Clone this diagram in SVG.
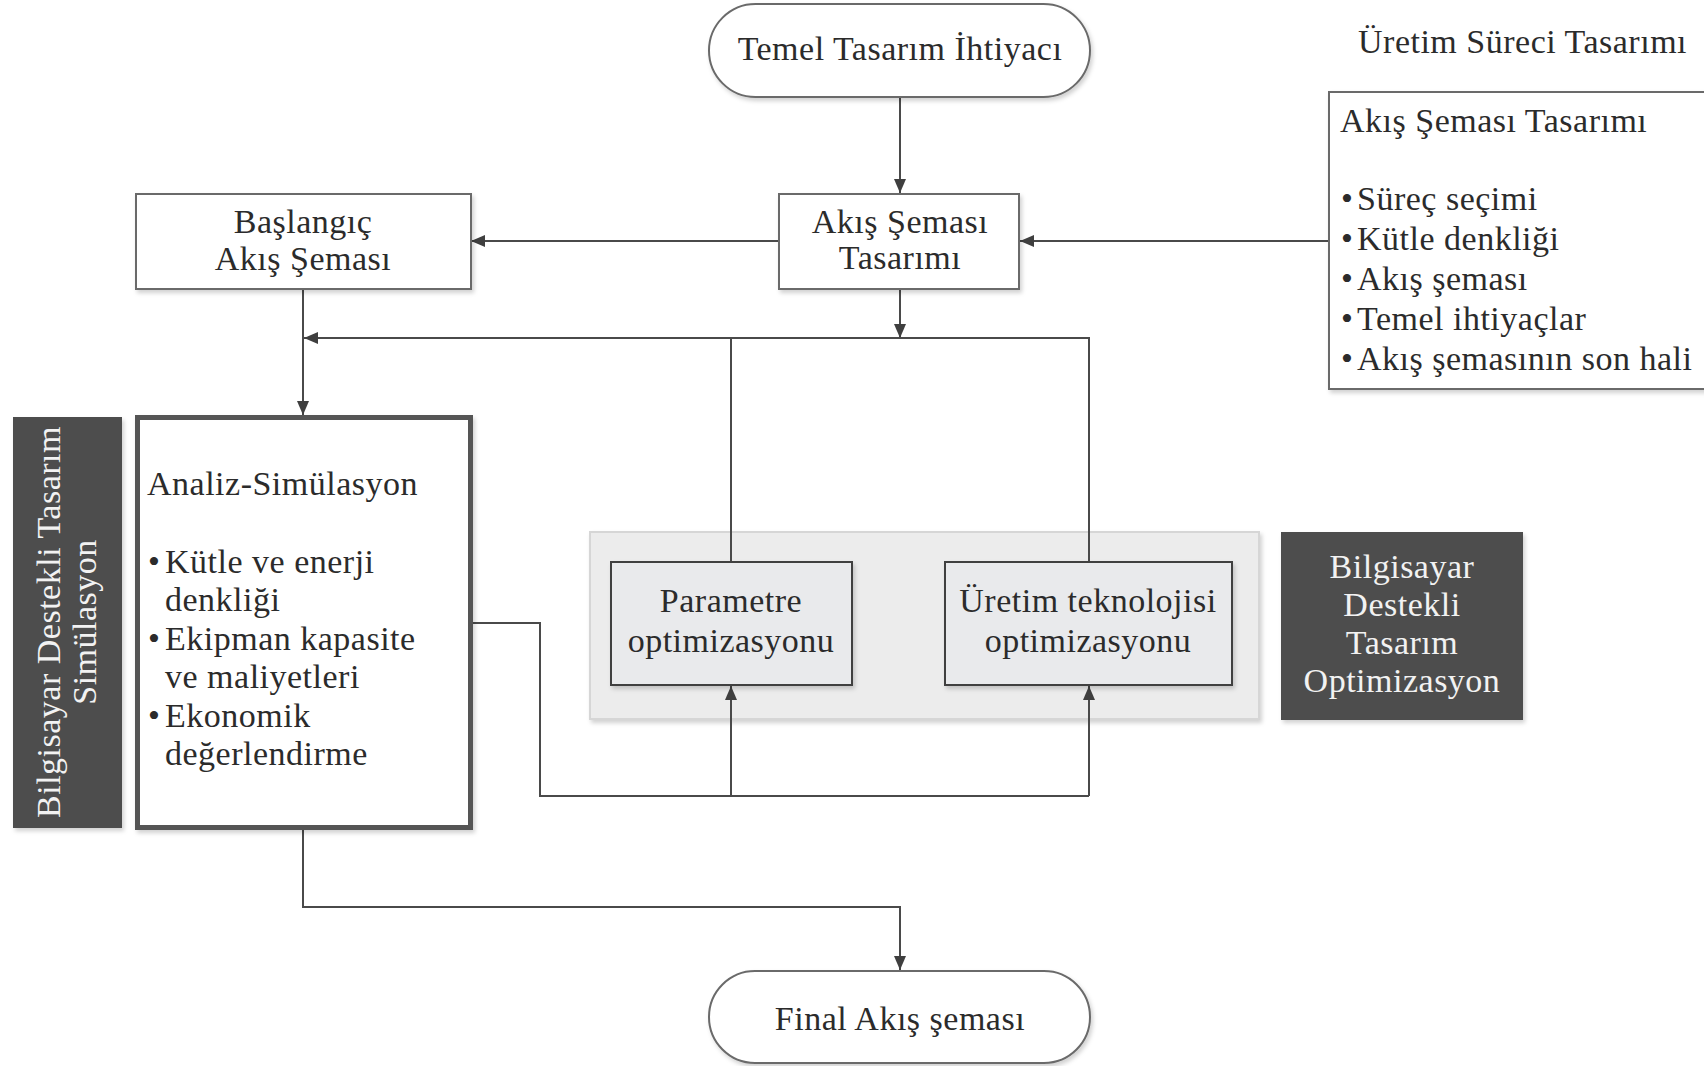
<svg xmlns="http://www.w3.org/2000/svg" width="1704" height="1066" viewBox="0 0 1704 1066">
<style>
text{font-family:"Liberation Serif","Times New Roman",serif;font-size:34px;letter-spacing:0.5px;fill:#2b2b2b}
.c{text-anchor:middle}
.w{fill:#f2f2f2}
.box{fill:#fff;stroke:#6a6a6a;stroke-width:2}
.ibox{fill:#e9eaec;stroke:#3f3f3f;stroke-width:2}
.dark{fill:#4d4d4d}
.ln{fill:none;stroke:#4a4a4a;stroke-width:2}
</style>
<defs>
<marker id="ah" viewBox="0 0 14 12" refX="14" refY="6" markerWidth="14" markerHeight="12" markerUnits="userSpaceOnUse" orient="auto">
<path d="M0,0 L14,6 L0,12 Z" fill="#3f3f3f"/>
</marker>
<filter id="sh" x="-5%" y="-5%" width="115%" height="115%">
<feDropShadow dx="2" dy="3" stdDeviation="2" flood-color="#000" flood-opacity="0.18"/>
</filter>
</defs>

<g id="panel">
<rect x="590" y="532" width="669" height="187" fill="#ececec" stroke="#d6d6d6" stroke-width="2" filter="url(#sh)"/>
</g>

<g id="connectors">
<path class="ln" d="M900,98 V193" marker-end="url(#ah)"/>
<path class="ln" d="M779,241 H471" marker-end="url(#ah)"/>
<path class="ln" d="M1329,241 H1020" marker-end="url(#ah)"/>
<path class="ln" d="M900,289 V338" marker-end="url(#ah)"/>
<path class="ln" d="M731,561 V338 M1089,561 V338 H304" marker-end="url(#ah)"/>
<path class="ln" d="M303,289 V415" marker-end="url(#ah)"/>
<path class="ln" d="M471,623 H540 V796 H1089"/>
<path class="ln" d="M731,796 V686" marker-end="url(#ah)"/>
<path class="ln" d="M1089,796 V686" marker-end="url(#ah)"/>
<path class="ln" d="M303,829 V907 H900 V970" marker-end="url(#ah)"/>
</g>

<g id="temel">
<rect x="709" y="4" width="381" height="93" rx="46.5" class="box" filter="url(#sh)"/>
<text x="900" y="60" class="c">Temel Tasarım İhtiyacı</text>
</g>

<g id="akis-tasarimi">
<rect x="779" y="194" width="240" height="95" class="box" filter="url(#sh)"/>
<text x="900" y="233" class="c">Akış Şeması</text>
<text x="900" y="269" class="c">Tasarımı</text>
</g>

<g id="baslangic">
<rect x="136" y="194" width="335" height="95" class="box" filter="url(#sh)"/>
<text x="303" y="233" class="c">Başlangıç</text>
<text x="303" y="270" class="c">Akış Şeması</text>
</g>

<g id="uretim-sureci">
<text x="1358" y="53">Üretim Süreci Tasarımı</text>
<rect x="1329" y="92" width="380" height="297" class="box" filter="url(#sh)"/>
<text x="1340" y="132">Akış Şeması Tasarımı</text>
<text y="210"><tspan x="1341">•</tspan><tspan x="1357">Süreç seçimi</tspan></text>
<text y="250"><tspan x="1341">•</tspan><tspan x="1357">Kütle denkliği</tspan></text>
<text y="290"><tspan x="1341">•</tspan><tspan x="1357">Akış şeması</tspan></text>
<text y="330"><tspan x="1341">•</tspan><tspan x="1357">Temel ihtiyaçlar</tspan></text>
<text y="370"><tspan x="1341">•</tspan><tspan x="1357">Akış şemasının son hali</tspan></text>
</g>

<g id="simulasyon-label">
<rect x="13" y="417" width="109" height="411" class="dark" filter="url(#sh)"/>
<text class="c w" transform="translate(60,622) rotate(-90)">Bilgisayar Destekli Tasarım</text>
<text class="c w" transform="translate(96,622) rotate(-90)">Simülasyon</text>
</g>

<g id="analiz">
<rect x="137.5" y="417.5" width="333" height="410" fill="#fff" stroke="#555" stroke-width="5" filter="url(#sh)"/>
<text x="147" y="495">Analiz-Simülasyon</text>
<text y="573"><tspan x="148">•</tspan><tspan x="165">Kütle ve enerji</tspan></text>
<text x="165" y="611">denkliği</text>
<text y="650"><tspan x="148">•</tspan><tspan x="165">Ekipman kapasite</tspan></text>
<text x="165" y="688">ve maliyetleri</text>
<text y="727"><tspan x="148">•</tspan><tspan x="165">Ekonomik</tspan></text>
<text x="165" y="765">değerlendirme</text>
</g>

<g id="parametre">
<rect x="611" y="562" width="241" height="123" class="ibox" filter="url(#sh)"/>
<text x="731" y="612" class="c">Parametre</text>
<text x="731" y="652" class="c">optimizasyonu</text>
</g>

<g id="uretim-teknolojisi">
<rect x="945" y="562" width="287" height="123" class="ibox" filter="url(#sh)"/>
<text x="1088" y="612" class="c">Üretim teknolojisi</text>
<text x="1088" y="652" class="c">optimizasyonu</text>
</g>

<g id="optimizasyon-label">
<rect x="1281" y="532" width="242" height="188" class="dark" filter="url(#sh)"/>
<text x="1402" y="578" class="c w">Bilgisayar</text>
<text x="1402" y="616" class="c w">Destekli</text>
<text x="1402" y="654" class="c w">Tasarım</text>
<text x="1402" y="692" class="c w">Optimizasyon</text>
</g>

<g id="final">
<rect x="709" y="971" width="381" height="92" rx="46" class="box" filter="url(#sh)"/>
<text x="900" y="1030" class="c">Final Akış şeması</text>
</g>
</svg>
